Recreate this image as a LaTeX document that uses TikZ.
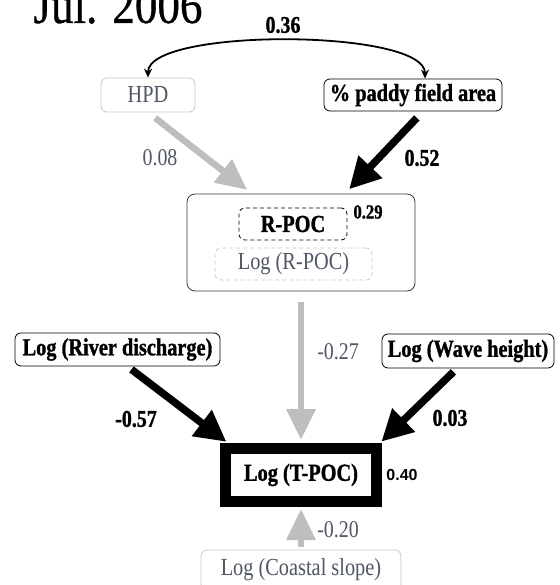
\documentclass[tikz,border=0pt]{standalone}
\usepackage{fontspec}
\setmainfont{Liberation Serif}[FakeStretch=0.83, BoldFeatures={FakeBold=1.2}]
\newfontfamily\titlefont{Liberation Serif}[FakeStretch=0.85, FakeBold=0.6]
\newfontfamily\labelsans{Liberation Sans}
\usepackage{tikz}
\usetikzlibrary{arrows.meta}
\pgfdeclarelayer{edgelayer}
\pgfdeclarelayer{nodelayer}
\pgfsetlayers{edgelayer,nodelayer,main}
\definecolor{lightedge}{RGB}{190,190,190}
\definecolor{greytext}{RGB}{80,86,100}
\definecolor{greyborder}{RGB}{200,200,200}
\definecolor{frameedge}{RGB}{60,60,60}
\tikzstyle{varbox}=[draw=black, fill=white, rounded corners=6pt, line width=0.8pt, inner sep=0pt, font=\fontsize{24.5}{26}\selectfont\bfseries]
\tikzstyle{greybox}=[draw=greyborder, fill=white, text=greytext, rounded corners=6pt, line width=0.8pt, inner sep=0pt, font=\fontsize{24.5}{26}\selectfont]
\tikzstyle{latentbox}=[draw=frameedge, rounded corners=8pt, line width=0.8pt, inner sep=0pt]
\tikzstyle{targetbox}=[draw=black, fill=white, line width=11pt, inner sep=0pt, font=\fontsize{24.5}{26}\selectfont\bfseries]
\tikzstyle{coef}=[font=\fontsize{24}{26}\selectfont\bfseries]
\tikzstyle{greycoef}=[text=greytext, font=\fontsize{24}{26}\selectfont]
\tikzstyle{rsq}=[font=\fontsize{20}{22}\selectfont\bfseries]
\tikzstyle{blackedge}=[draw=black, line width=7.5pt, -{Triangle[length=31pt,width=31pt]}]
\tikzstyle{greyedge}=[draw=lightedge, line width=6.5pt, -{Triangle[length=31pt,width=28pt]}]
\tikzstyle{corredge}=[draw=black, line width=1.8pt, {Stealth[length=9pt,width=8pt]}-{Stealth[length=9pt,width=8pt]}]

\begin{document}
\begin{tikzpicture}[x=1pt, y=-1pt]
	\useasboundingbox (0,0) rectangle (559,585);
	\node [anchor=base west, font=\titlefont\fontsize{53}{55}\selectfont] (title) at (30,23) {Jul. 2006};
	\begin{pgfonlayer}{nodelayer}
		\node [style=greybox, minimum width=94pt, minimum height=34pt] (hpd) at (148,95) {HPD};
		\node [style=varbox, minimum width=178pt, minimum height=32pt] (paddy) at (413,95) {\% paddy field area};
		\node [style=latentbox, minimum width=228pt, minimum height=97pt] (rpoc) at (301,242.5) {};
		\node [style=varbox, dash pattern=on 4pt off 3pt, minimum width=108pt, minimum height=32pt] (rpocname) at (293,224) {R-POC};
		\node [style=greybox, dash pattern=on 4pt off 3pt, minimum width=157pt, minimum height=32pt] (rpoclog) at (293.5,264) {Log (R-POC)};
		\node [style=varbox, minimum width=205pt, minimum height=33pt] (river) at (117.5,349.5) {Log (River discharge)};
		\node [style=varbox, minimum width=172pt, minimum height=34pt] (wave) at (468,351) {Log (Wave height)};
		\node [style=targetbox, minimum width=151pt, minimum height=53pt] (tpoc) at (301,475) {Log (T-POC)};
		\node [style=greybox, minimum width=200pt, minimum height=40pt] (coastal) at (301,570) {Log (Coastal slope)};
	\end{pgfonlayer}
	\node [style=coef] (c036) at (283,25) {0.36};
	\node [style=greycoef] (c008) at (160,158) {0.08};
	\node [style=coef] (c052) at (422,158) {0.52};
	\node [style=rsq] (r029) at (368,212) {0.29};
	\node [style=greycoef] (c027) at (338,352) {-0.27};
	\node [style=coef] (c057) at (136,419) {-0.57};
	\node [style=coef] (c003) at (450,418) {0.03};
	\node [font=\labelsans\fontsize{16}{18}\selectfont\bfseries] (r040) at (402,475) {0.40};
	\node [style=greycoef] (c020) at (338,530) {-0.20};
	\begin{pgfonlayer}{edgelayer}
		\draw [style=corredge] (hpd.north) .. controls +(0,-50) and +(0,-50) .. ([xshift=12pt]paddy.north);
		\draw [style=greyedge, shorten <=9pt, shorten >=6pt] (hpd.south) to ([xshift=-49pt]rpoc.north);
		\draw [style=blackedge, shorten <=9pt, shorten >=6pt] ([xshift=10pt]paddy.south) to ([xshift=44pt]rpoc.north);
		\draw [style=greyedge, shorten <=11pt, shorten >=3pt] (rpoc.south) to (tpoc.north);
		\draw [style=blackedge, shorten <=5pt, shorten >=2pt] ([xshift=10pt]river.south) to ([xshift=8pt]tpoc.north west);
		\draw [style=blackedge, shorten <=5pt, shorten >=2pt] ([xshift=-11pt]wave.south) to ([xshift=-2pt]tpoc.north east);
		\draw [style=greyedge, shorten <=3pt, shorten >=2pt] (coastal.north) to (tpoc.south);
	\end{pgfonlayer}
\end{tikzpicture}
\end{document}
